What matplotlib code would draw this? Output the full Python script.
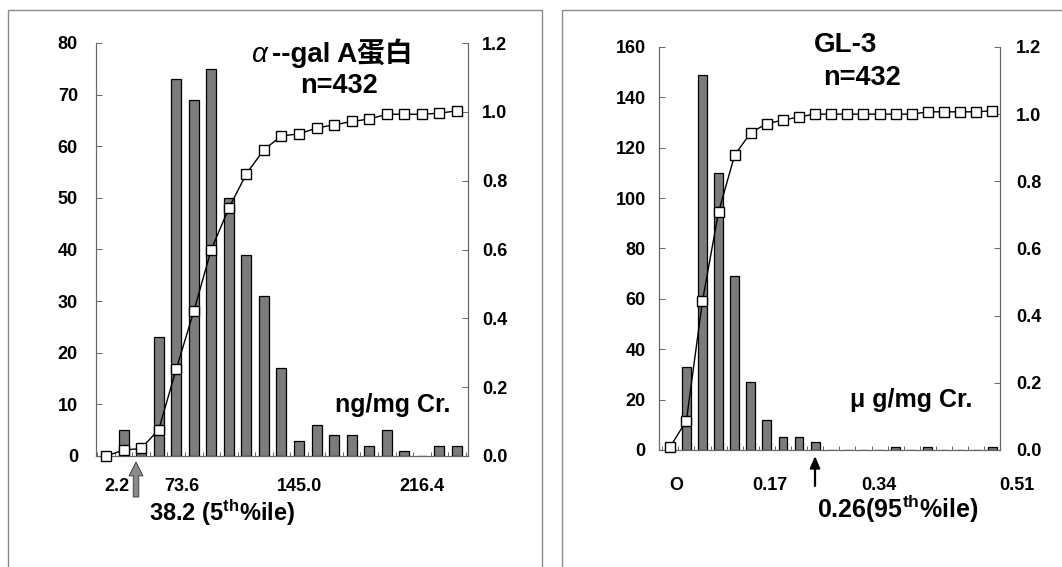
import matplotlib
matplotlib.use('Agg')
import matplotlib.pyplot as plt
import matplotlib.transforms as mtransforms
from matplotlib.patches import Rectangle
from matplotlib.ticker import FixedLocator, FormatStrFormatter

plt.rcParams['font.family'] = ['Liberation Sans', 'Noto Sans CJK SC', 'DejaVu Sans']
plt.rcParams['font.weight'] = 'bold'
plt.rcParams['mathtext.fontset'] = 'custom'
plt.rcParams['mathtext.rm'] = 'Liberation Sans:bold'
plt.rcParams['mathtext.bf'] = 'Liberation Sans:bold'
plt.rcParams['mathtext.it'] = 'Liberation Sans:bold:italic'

# ---------------- data ----------------
# alpha-gal A protein panel
alpha_counts = [0, 5, 1, 23, 73, 69, 75, 50, 39, 31, 17, 3, 6, 4, 4, 2, 5, 1, 0, 2, 2]
alpha_cum = [0.0, 0.017, 0.022, 0.076, 0.252, 0.42, 0.60, 0.72, 0.82, 0.89, 0.93,
             0.936, 0.953, 0.962, 0.972, 0.979, 0.993, 0.993, 0.993, 0.996, 1.003]
alpha_xlabels = ['2.2', '73.6', '145.0', '216.4']
alpha_yticks = [0, 10, 20, 30, 40, 50, 60, 70, 80]

# GL-3 panel
gl3_counts = [0, 33, 149, 110, 69, 27, 12, 5, 5, 3, 0, 0, 0, 0, 1, 0, 1, 0, 0, 0, 1]
gl3_cum = [0.01, 0.087, 0.444, 0.709, 0.878, 0.945, 0.972, 0.982, 0.992, 1.0, 1.0,
           1.0, 1.0, 1.0, 1.0, 1.0, 1.007, 1.007, 1.007, 1.007, 1.01]
gl3_xlabels = ['O', '0.17', '0.34', '0.51']
gl3_yticks = [0, 20, 40, 60, 80, 100, 120, 140, 160]

cum_yticks = [0.0, 0.2, 0.4, 0.6, 0.8, 1.0, 1.2]

# ---------------- layout ----------------
W, H = 1062, 567
fig = plt.figure(figsize=(W / 100, H / 100), dpi=100)
fig.patch.set_facecolor('white')

TICK_FS = 13


def fx(px):
    return px / W


def fy(py):
    return 1 - py / H


# panel frames
for x0, x1 in [(8, 542), (562, 1075)]:
    fig.add_artist(Rectangle((fx(x0), fy(600)), fx(x1) - fx(x0), fy(10) - fy(600),
                             transform=fig.transFigure, fill=False,
                             edgecolor='#8a8a8a', linewidth=1.0, clip_on=False))

BAR_COLOR = '#7c7c7c'
SPINE = '#666666'


def make_panel(rect, counts, cum, ymax, yticks, xlim, lpad, rpad, bar_w):
    ax = fig.add_axes(rect)
    xs = list(range(len(counts)))
    ax.bar(xs, counts, width=bar_w, color=BAR_COLOR, edgecolor='black',
           linewidth=0.9, zorder=2)
    ax.set_xlim(*xlim)
    ax.set_ylim(0, ymax)
    ax.set_yticks(yticks)
    ax.set_xticks([])
    ax.xaxis.set_minor_locator(FixedLocator([i + 0.5 for i in range(-1, len(counts))]))
    ax.tick_params(axis='x', which='minor', direction='in', length=3, width=0.7,
                   color=SPINE)
    ax.tick_params(axis='y', direction='in', length=4, width=0.7, color=SPINE,
                   labelsize=TICK_FS, pad=lpad)
    ax.spines['top'].set_visible(False)
    for s in ['left', 'bottom', 'right']:
        ax.spines[s].set_color(SPINE)
        ax.spines[s].set_linewidth(0.8)
    for lab in ax.get_yticklabels():
        lab.set_fontweight('bold')

    ax2 = ax.twinx()
    ax2.plot(xs, cum, color='black', linewidth=1.0, marker='s', markersize=7.5,
             markerfacecolor='white', markeredgecolor='black', markeredgewidth=1.0,
             zorder=3, clip_on=False)
    ax2.set_ylim(0, 1.2)
    ax2.set_yticks(cum_yticks)
    ax2.yaxis.set_major_formatter(FormatStrFormatter('%.1f'))
    ax2.tick_params(axis='y', direction='in', length=4, width=0.7, color=SPINE,
                    labelsize=TICK_FS, pad=rpad)
    ax2.spines['top'].set_visible(False)
    for s in ['left', 'bottom', 'right']:
        ax2.spines[s].set_color(SPINE)
        ax2.spines[s].set_linewidth(0.8)
    for lab in ax2.get_yticklabels():
        lab.set_fontweight('bold')
    return ax, ax2


# left panel: axes 96..468 px (x), 43..456 px (y)
axL, axL2 = make_panel([fx(96), fy(456), fx(468) - fx(96), fy(43) - fy(456)],
                       alpha_counts, alpha_cum, 80, alpha_yticks,
                       (-0.57, 20.63), 13, 10, 0.57)
# right panel: axes 659..1000 px (x), 47..450 px (y)
axR, axR2 = make_panel([fx(659), fy(450), fx(1000) - fx(659), fy(47) - fy(450)],
                       gl3_counts, gl3_cum, 160, gl3_yticks,
                       (-0.70, 20.48), 9.5, 11.5, 0.55)

# x labels (placed along the category axis)
alpha_label_pos = [0.63, 4.33, 11.05, 18.0]
gl3_label_pos = [0.35, 6.16, 12.95, 21.5]
trL = mtransforms.blended_transform_factory(axL.transData, fig.transFigure)
trR = mtransforms.blended_transform_factory(axR.transData, fig.transFigure)
for p, t in zip(alpha_label_pos, alpha_xlabels):
    axL.text(p, fy(491), t, transform=trL, ha='center', va='baseline',
             fontsize=TICK_FS, fontweight='bold', clip_on=False)
for p, t in zip(gl3_label_pos, gl3_xlabels):
    axR.text(p, fy(490), t, transform=trR, ha='center', va='baseline',
             fontsize=TICK_FS, fontweight='bold', clip_on=False)

# percentile arrows
axL.annotate('', xy=(1.71, fy(462)), xycoords=trL,
             xytext=(1.71, fy(497)), textcoords=trL,
             arrowprops=dict(arrowstyle='simple,head_length=1.0,head_width=1.0,tail_width=0.4',
                             mutation_scale=10, fc='#8a8a8a', ec='#333333', lw=0.6,
                             shrinkA=0, shrinkB=0),
             annotation_clip=False)
axR.annotate('', xy=(8.99, fy(456)), xycoords=trR,
             xytext=(8.99, fy(486)), textcoords=trR,
             arrowprops=dict(arrowstyle='-|>,head_length=0.7,head_width=0.3',
                             mutation_scale=10, fc='black', ec='black', lw=1.6,
                             shrinkA=0, shrinkB=0),
             annotation_clip=False)

# percentile labels
fig.text(fx(222), fy(521), r'38.2 (5$^{\mathbf{th}}$%ile)', ha='center', va='baseline',
         fontsize=17, fontweight='bold')
fig.text(fx(898), fy(518), r'0.26(95$^{\mathbf{th}}$%ile)', ha='center', va='baseline',
         fontsize=18, fontweight='bold')

# titles
fig.text(fx(267), fy(62), 'α', ha='right', va='baseline', fontsize=20,
         style='italic', fontweight='normal')
fig.text(fx(272), fy(62), '--gal A蛋白', ha='left', va='baseline', fontsize=20,
         fontweight='bold')
fig.text(fx(339), fy(93), 'n=432', ha='center', va='baseline', fontsize=19.5,
         fontweight='bold')
fig.text(fx(846), fy(52), 'GL-3', ha='center', va='baseline', fontsize=20,
         fontweight='bold')
fig.text(fx(862), fy(85), 'n=432', ha='center', va='baseline', fontsize=19.5,
         fontweight='bold')

# units
fig.text(fx(393), fy(412), 'ng/mg Cr.', ha='center', va='baseline', fontsize=18,
         fontweight='bold')
fig.text(fx(911), fy(407), 'μ g/mg Cr.', ha='center', va='baseline', fontsize=18,
         fontweight='bold')

fig.savefig('out.png', dpi=100, facecolor='white')
